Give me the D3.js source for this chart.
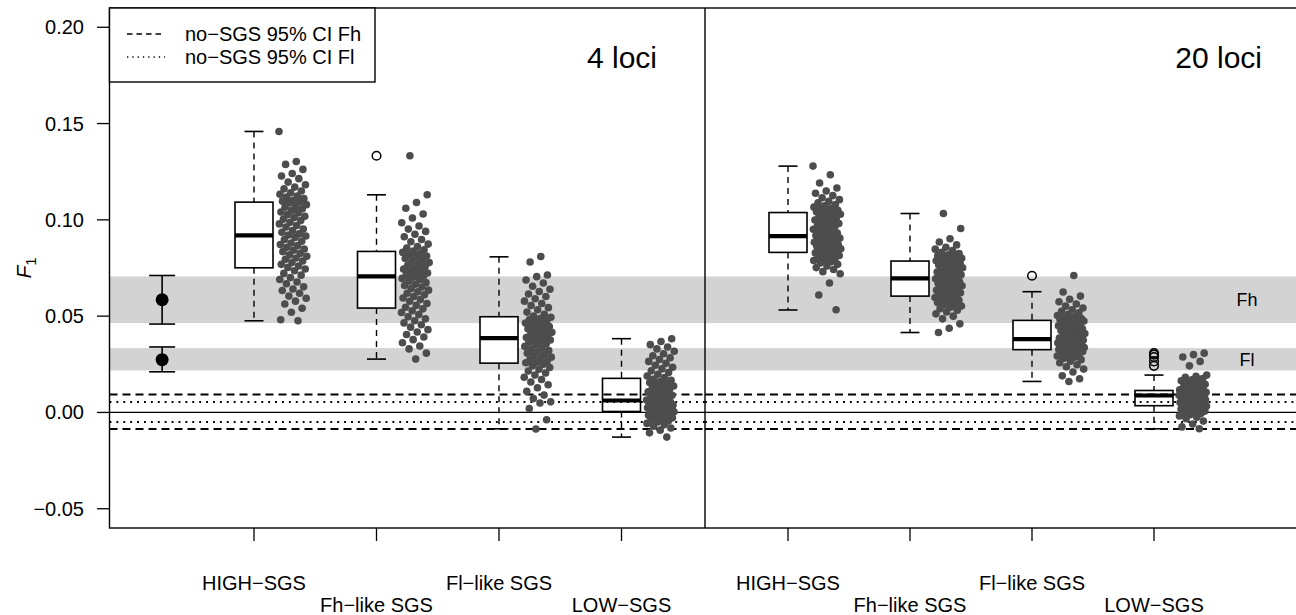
<!DOCTYPE html>
<html>
<head>
<meta charset="utf-8">
<script src="https://cdn.jsdelivr.net/npm/d3@7"></script>
<style>
  body { margin: 0; background: white; }
  svg { display: block; font-family: "Liberation Sans", Arial, Helvetica, sans-serif; }
</style>
</head>
<body>
<div id="chart"></div>
<script>
// categories and panels
var categories = ["HIGH\u2212SGS", "Fh\u2212like SGS", "Fl\u2212like SGS", "LOW\u2212SGS"];
var panelNames = ["4 loci", "20 loci"];
var yTicks = [-0.05, 0.00, 0.05, 0.10, 0.15, 0.20];

// reference bands (Fh, Fl) and their point estimates with CI
var bandLo = [0.0464, 0.0218];
var bandHi = [0.0706, 0.0334];
var bandNames = ["Fh", "Fl"];
var estValue = [0.0585, 0.0274];
var estLo = [0.0459, 0.0211];
var estHi = [0.0711, 0.0340];

// no-SGS 95% CI lines
var noSgsFh = [-0.0086, 0.0093];
var noSgsFl = [-0.0050, 0.0054];

// box statistics, 4 loci
var leftWhiskLo = [0.0476, 0.0277, -0.0085, -0.0128];
var leftQ1 = [0.0751, 0.0542, 0.0256, 0.0005];
var leftMed = [0.0919, 0.0706, 0.0386, 0.0062];
var leftQ3 = [0.1092, 0.0836, 0.0497, 0.0177];
var leftWhiskHi = [0.1459, 0.1130, 0.0808, 0.0383];
var leftOutliers = [[], [0.1333], [], []];

// box statistics, 20 loci
var rightWhiskLo = [0.0532, 0.0415, 0.0161, -0.0085];
var rightQ1 = [0.0831, 0.0604, 0.0326, 0.0035];
var rightMed = [0.0916, 0.0696, 0.0381, 0.0088];
var rightQ3 = [0.1038, 0.0786, 0.0478, 0.0114];
var rightWhiskHi = [0.1279, 0.1033, 0.0627, 0.0194];
var rightOutliers = [[], [], [0.0710], [0.0308, 0.0300, 0.0288, 0.0265, 0.0242]];

// replicate values, 4 loci
var leftHigh = [0.1459, 0.1303, 0.1288, 0.1262, 0.1241, 0.1228, 0.1214, 0.1196, 0.1182, 0.1170, 0.1161, 0.1150, 0.1141, 0.1133, 0.1124, 0.1118, 0.1110, 0.1102, 0.1097, 0.1093,
  0.1088, 0.1079, 0.1071, 0.1066, 0.1058, 0.1049, 0.1041, 0.1036, 0.1027, 0.1019, 0.1012, 0.1004, 0.0996, 0.0987, 0.0979, 0.0971, 0.0963, 0.0952, 0.0944, 0.0936, 0.0927, 0.0921,
  0.0916, 0.0909, 0.0898, 0.0889, 0.0880, 0.0872, 0.0866, 0.0858, 0.0849, 0.0842, 0.0835, 0.0826, 0.0818, 0.0811, 0.0802, 0.0795, 0.0786, 0.0778, 0.0769, 0.0760, 0.0753,
  0.0745, 0.0736, 0.0722, 0.0713, 0.0701, 0.0690, 0.0677, 0.0668, 0.0652, 0.0641, 0.0633, 0.0619, 0.0604, 0.0593, 0.0578, 0.0563, 0.0541, 0.0520, 0.0481, 0.0476];
var leftFhLike = [0.1333, 0.1130, 0.1090, 0.1060, 0.1030, 0.1010, 0.0985, 0.0968, 0.0952, 0.0940, 0.0925, 0.0912, 0.0898, 0.0886, 0.0874, 0.0862, 0.0853, 0.0845, 0.0838,
  0.0831, 0.0825, 0.0818, 0.0812, 0.0805, 0.0799, 0.0791, 0.0784, 0.0778, 0.0771, 0.0764, 0.0757, 0.0750, 0.0744, 0.0737, 0.0731, 0.0724, 0.0718, 0.0712, 0.0708,
  0.0702, 0.0696, 0.0689, 0.0681, 0.0674, 0.0666, 0.0659, 0.0651, 0.0643, 0.0635, 0.0627, 0.0619, 0.0611, 0.0602, 0.0594, 0.0586, 0.0577, 0.0566, 0.0556, 0.0546,
  0.0538, 0.0528, 0.0519, 0.0508, 0.0497, 0.0486, 0.0476, 0.0465, 0.0455, 0.0443, 0.0430, 0.0418, 0.0405, 0.0392, 0.0378, 0.0362, 0.0345, 0.0330, 0.0308, 0.0277];
var leftFlLike = [0.0810, 0.0781, 0.0714, 0.0705, 0.0688, 0.0672, 0.0655, 0.0640, 0.0628, 0.0615, 0.0602, 0.0590, 0.0578, 0.0566, 0.0555, 0.0544, 0.0533, 0.0521, 0.0510, 0.0501,
  0.0494, 0.0488, 0.0482, 0.0476, 0.0470, 0.0464, 0.0458, 0.0452, 0.0446, 0.0440, 0.0434, 0.0428, 0.0422, 0.0416, 0.0410, 0.0404, 0.0398, 0.0393, 0.0389, 0.0387,
  0.0382, 0.0376, 0.0370, 0.0364, 0.0357, 0.0350, 0.0343, 0.0336, 0.0329, 0.0322, 0.0315, 0.0308, 0.0301, 0.0294, 0.0287, 0.0280, 0.0273, 0.0266, 0.0261, 0.0258,
  0.0250, 0.0242, 0.0233, 0.0224, 0.0215, 0.0205, 0.0194, 0.0183, 0.0171, 0.0158, 0.0144, 0.0128, 0.0110, 0.0090, 0.0072, 0.0055, 0.0049, 0.0020, -0.0038, -0.0086];
var leftLow = [0.0383, 0.0368, 0.0352, 0.0340, 0.0330, 0.0318, 0.0305, 0.0294, 0.0284, 0.0275, 0.0265, 0.0255, 0.0245, 0.0235, 0.0226, 0.0216, 0.0207, 0.0198, 0.0189, 0.0181,
  0.0173, 0.0167, 0.0161, 0.0155, 0.0149, 0.0143, 0.0137, 0.0131, 0.0125, 0.0119, 0.0113, 0.0107, 0.0101, 0.0095, 0.0089, 0.0083, 0.0077, 0.0071, 0.0067, 0.0064,
  0.0060, 0.0057, 0.0054, 0.0051, 0.0048, 0.0045, 0.0042, 0.0039, 0.0036, 0.0033, 0.0030, 0.0027, 0.0024, 0.0021, 0.0018, 0.0015, 0.0012, 0.0009, 0.0007, 0.0006,
  0.0003, 0.0000, -0.0003, -0.0007, -0.0011, -0.0015, -0.0019, -0.0023, -0.0028, -0.0033, -0.0038, -0.0044, -0.0050, -0.0057, -0.0064, -0.0072, -0.0081, -0.0092, -0.0106, -0.0128];

// replicate values, 20 loci
var rightHigh = [0.1279, 0.1234, 0.1191, 0.1165, 0.1150, 0.1138, 0.1126, 0.1115, 0.1105, 0.1096, 0.1088, 0.1080, 0.1073, 0.1066, 0.1060, 0.1055, 0.1050, 0.1046, 0.1042, 0.1039,
  0.1035, 0.1029, 0.1023, 0.1017, 0.1011, 0.1005, 0.0999, 0.0993, 0.0987, 0.0981, 0.0975, 0.0969, 0.0963, 0.0957, 0.0951, 0.0945, 0.0939, 0.0932, 0.0925, 0.0919,
  0.0913, 0.0909, 0.0905, 0.0901, 0.0896, 0.0892, 0.0888, 0.0884, 0.0880, 0.0876, 0.0871, 0.0867, 0.0863, 0.0859, 0.0855, 0.0850, 0.0846, 0.0841, 0.0837, 0.0833,
  0.0829, 0.0825, 0.0820, 0.0815, 0.0810, 0.0805, 0.0800, 0.0795, 0.0789, 0.0783, 0.0776, 0.0769, 0.0761, 0.0752, 0.0742, 0.0731, 0.0720, 0.0672, 0.0610, 0.0533];
var rightFhLike = [0.1033, 0.0955, 0.0902, 0.0885, 0.0870, 0.0858, 0.0848, 0.0840, 0.0832, 0.0825, 0.0819, 0.0814, 0.0809, 0.0804, 0.0800, 0.0797, 0.0794, 0.0791, 0.0789, 0.0787,
  0.0783, 0.0778, 0.0774, 0.0769, 0.0765, 0.0760, 0.0756, 0.0751, 0.0747, 0.0742, 0.0738, 0.0733, 0.0729, 0.0724, 0.0720, 0.0715, 0.0711, 0.0706, 0.0702, 0.0698,
  0.0694, 0.0689, 0.0685, 0.0680, 0.0676, 0.0671, 0.0667, 0.0662, 0.0658, 0.0653, 0.0649, 0.0644, 0.0640, 0.0635, 0.0631, 0.0626, 0.0621, 0.0616, 0.0611, 0.0606,
  0.0601, 0.0597, 0.0592, 0.0587, 0.0582, 0.0577, 0.0571, 0.0565, 0.0559, 0.0553, 0.0546, 0.0539, 0.0531, 0.0522, 0.0512, 0.0500, 0.0486, 0.0460, 0.0437, 0.0415];
var rightFlLike = [0.0711, 0.0625, 0.0604, 0.0588, 0.0575, 0.0563, 0.0552, 0.0542, 0.0533, 0.0525, 0.0517, 0.0510, 0.0503, 0.0497, 0.0492, 0.0488, 0.0485, 0.0482, 0.0480, 0.0479,
  0.0475, 0.0470, 0.0465, 0.0460, 0.0455, 0.0450, 0.0445, 0.0440, 0.0435, 0.0430, 0.0425, 0.0420, 0.0415, 0.0410, 0.0405, 0.0400, 0.0395, 0.0390, 0.0386, 0.0383,
  0.0379, 0.0376, 0.0373, 0.0370, 0.0367, 0.0364, 0.0361, 0.0358, 0.0355, 0.0352, 0.0349, 0.0346, 0.0343, 0.0340, 0.0337, 0.0335, 0.0333, 0.0331, 0.0329, 0.0327,
  0.0324, 0.0320, 0.0316, 0.0312, 0.0308, 0.0303, 0.0298, 0.0293, 0.0287, 0.0281, 0.0274, 0.0266, 0.0258, 0.0248, 0.0237, 0.0225, 0.0210, 0.0190, 0.0175, 0.0161];
var rightLow = [0.0308, 0.0300, 0.0288, 0.0265, 0.0242, 0.0194, 0.0188, 0.0182, 0.0176, 0.0170, 0.0164, 0.0158, 0.0152, 0.0146, 0.0140, 0.0134, 0.0128, 0.0122, 0.0117, 0.0115,
  0.0113, 0.0112, 0.0110, 0.0109, 0.0108, 0.0106, 0.0105, 0.0104, 0.0102, 0.0101, 0.0099, 0.0098, 0.0097, 0.0095, 0.0094, 0.0093, 0.0092, 0.0091, 0.0090, 0.0089,
  0.0086, 0.0083, 0.0081, 0.0078, 0.0075, 0.0072, 0.0069, 0.0066, 0.0064, 0.0061, 0.0058, 0.0055, 0.0052, 0.0050, 0.0047, 0.0045, 0.0042, 0.0040, 0.0038, 0.0036,
  0.0033, 0.0030, 0.0027, 0.0024, 0.0021, 0.0018, 0.0015, 0.0011, 0.0007, 0.0003, -0.0001, -0.0006, -0.0012, -0.0018, -0.0025, -0.0033, -0.0045, -0.0060, -0.0075, -0.0085];

var width = 1296;
var height = 615;
var plotTop = 8, plotBottom = 528, plotLeft = 109.5, divider = 705, plotRight = 1310;
var fontSize = 20;
var pointColor = "#4d4d4d";

// build panels from the arrays above
var panels = [
  { name: panelNames[0], x0: plotLeft, x1: divider, range: [254, 621.5],
    lo: leftWhiskLo, q1: leftQ1, med: leftMed, q3: leftQ3, hi: leftWhiskHi, out: leftOutliers,
    points: [leftHigh, leftFhLike, leftFlLike, leftLow], estimates: true },
  { name: panelNames[1], x0: divider, x1: plotRight, range: [788, 1154],
    lo: rightWhiskLo, q1: rightQ1, med: rightMed, q3: rightQ3, hi: rightWhiskHi, out: rightOutliers,
    points: [rightHigh, rightFhLike, rightFlLike, rightLow], estimates: false }
];

var y = d3.scaleLinear().domain([-0.06, 0.21]).range([plotBottom, plotTop]);

var svg = d3.select("#chart")
    .append("svg")
    .attr("width", width)
    .attr("height", height);

svg.append("rect")
    .attr("width", width)
    .attr("height", height)
    .attr("fill", "white");

var boxHalf = 19, capHalf = 9.5, stripOffset = 39, stripSpread = 28;

panels.forEach(function(p, pi) {
  var x = d3.scaleLinear().domain([1, 4]).range(p.range);
  var g = svg.append("g");

  // grey bands
  g.selectAll(".band")
      .data(bandLo)
      .enter()
      .append("rect")
      .attr("x", p.x0)
      .attr("width", p.x1 - p.x0)
      .attr("y", (d, i) => y(bandHi[i]))
      .attr("height", (d, i) => y(d) - y(bandHi[i]))
      .attr("fill", "#d3d3d3");

  // boxes
  var boxes = g.selectAll(".box")
      .data(categories)
      .enter()
      .append("g")
      .attr("transform", (d, i) => "translate(" + x(i + 1) + ",0)");

  boxes.append("line")
      .attr("y1", (d, i) => y(p.hi[i]))
      .attr("y2", (d, i) => y(p.q3[i]))
      .attr("stroke", "black").attr("stroke-width", 1.4).attr("stroke-dasharray", "6,5");
  boxes.append("line")
      .attr("y1", (d, i) => y(p.q1[i]))
      .attr("y2", (d, i) => y(p.lo[i]))
      .attr("stroke", "black").attr("stroke-width", 1.4).attr("stroke-dasharray", "6,5");
  boxes.append("line")
      .attr("x1", -capHalf).attr("x2", capHalf)
      .attr("y1", (d, i) => y(p.hi[i])).attr("y2", (d, i) => y(p.hi[i]))
      .attr("stroke", "black").attr("stroke-width", 1.6);
  boxes.append("line")
      .attr("x1", -capHalf).attr("x2", capHalf)
      .attr("y1", (d, i) => y(p.lo[i])).attr("y2", (d, i) => y(p.lo[i]))
      .attr("stroke", "black").attr("stroke-width", 1.6);
  boxes.append("rect")
      .attr("x", -boxHalf)
      .attr("width", boxHalf * 2)
      .attr("y", (d, i) => y(p.q3[i]))
      .attr("height", (d, i) => y(p.q1[i]) - y(p.q3[i]))
      .attr("fill", "white")
      .attr("stroke", "black").attr("stroke-width", 1.6);
  boxes.append("line")
      .attr("x1", -boxHalf).attr("x2", boxHalf)
      .attr("y1", (d, i) => y(p.med[i])).attr("y2", (d, i) => y(p.med[i]))
      .attr("stroke", "black").attr("stroke-width", 4.2);
  boxes.each(function(d, i) {
    d3.select(this).selectAll(".out")
        .data(p.out[i])
        .enter()
        .append("circle")
        .attr("cy", v => y(v))
        .attr("r", 4.3)
        .attr("fill", "none")
        .attr("stroke", "black").attr("stroke-width", 1.5);
  });

  // no-SGS CI lines and zero line
  g.selectAll(".fhline")
      .data(noSgsFh)
      .enter()
      .append("line")
      .attr("x1", p.x0).attr("x2", p.x1)
      .attr("y1", d => y(d)).attr("y2", d => y(d))
      .attr("stroke", "black").attr("stroke-width", 2).attr("stroke-dasharray", "8,5");
  g.selectAll(".flline")
      .data(noSgsFl)
      .enter()
      .append("line")
      .attr("x1", p.x0).attr("x2", p.x1)
      .attr("y1", d => y(d)).attr("y2", d => y(d))
      .attr("stroke", "black").attr("stroke-width", 1.9).attr("stroke-dasharray", "1.9,5");
  g.append("line")
      .attr("x1", p.x0).attr("x2", p.x1)
      .attr("y1", y(0)).attr("y2", y(0))
      .attr("stroke", "black").attr("stroke-width", 1.2);

  // jittered replicate points
  p.points.forEach(function(vals, ci) {
    g.selectAll(".pt" + ci)
        .data(vals)
        .enter()
        .append("circle")
        .attr("cx", (d, i) => x(ci + 1) + stripOffset + (((i * 0.618034 + ci * 0.3) % 1) - 0.5) * stripSpread)
        .attr("cy", d => y(d))
        .attr("r", 3.8)
        .attr("fill", pointColor);
  });

  // panel title
  g.append("text")
      .attr("x", pi == 0 ? 657 : 1262)
      .attr("y", 68)
      .attr("text-anchor", "end")
      .style("font-size", "30px")
      .text(p.name);

  // x ticks and two-row labels
  g.selectAll(".xtick")
      .data(categories)
      .enter()
      .append("line")
      .attr("x1", (d, i) => x(i + 1)).attr("x2", (d, i) => x(i + 1))
      .attr("y1", plotBottom).attr("y2", plotBottom + 13)
      .attr("stroke", "black").attr("stroke-width", 1.3);
  g.selectAll(".xlab")
      .data(categories)
      .enter()
      .append("text")
      .attr("x", (d, i) => x(i + 1))
      .attr("y", (d, i) => i % 2 == 0 ? 590 : 612)
      .attr("text-anchor", "middle")
      .style("font-size", fontSize + "px")
      .text(d => d);

  // estimates with CI (4 loci only)
  if (p.estimates) {
    var ex = x(0.25);
    var est = g.selectAll(".est")
        .data(estValue)
        .enter()
        .append("g");
    est.append("line")
        .attr("x1", ex).attr("x2", ex)
        .attr("y1", (d, i) => y(estHi[i])).attr("y2", (d, i) => y(estLo[i]))
        .attr("stroke", "black").attr("stroke-width", 1.6);
    est.append("line")
        .attr("x1", ex - 13).attr("x2", ex + 13)
        .attr("y1", (d, i) => y(estHi[i])).attr("y2", (d, i) => y(estHi[i]))
        .attr("stroke", "black").attr("stroke-width", 1.6);
    est.append("line")
        .attr("x1", ex - 13).attr("x2", ex + 13)
        .attr("y1", (d, i) => y(estLo[i])).attr("y2", (d, i) => y(estLo[i]))
        .attr("stroke", "black").attr("stroke-width", 1.6);
    est.append("circle")
        .attr("cx", ex)
        .attr("cy", d => y(d))
        .attr("r", 6.5)
        .attr("fill", "black");
  } else {
    g.selectAll(".bandlab")
        .data(bandNames)
        .enter()
        .append("text")
        .attr("x", 1247)
        .attr("y", (d, i) => (y(bandLo[i]) + y(bandHi[i])) / 2 + 6.5)
        .attr("text-anchor", "middle")
        .style("font-size", "18px")
        .text(d => d);
  }
});

// frame
svg.append("rect")
    .attr("x", plotLeft)
    .attr("y", plotTop)
    .attr("width", plotRight - plotLeft)
    .attr("height", plotBottom - plotTop)
    .attr("fill", "none")
    .attr("stroke", "black")
    .attr("stroke-width", 1.4);
svg.append("line")
    .attr("x1", divider).attr("x2", divider)
    .attr("y1", plotTop).attr("y2", plotBottom)
    .attr("stroke", "black").attr("stroke-width", 1.4);

// y axis
svg.selectAll(".ytick")
    .data(yTicks)
    .enter()
    .append("line")
    .attr("x1", plotLeft - 12.5).attr("x2", plotLeft)
    .attr("y1", d => y(d)).attr("y2", d => y(d))
    .attr("stroke", "black").attr("stroke-width", 1.3);
svg.selectAll(".ylab")
    .data(yTicks)
    .enter()
    .append("text")
    .attr("x", 84)
    .attr("y", d => y(d) + 7)
    .attr("text-anchor", "end")
    .style("font-size", fontSize + "px")
    .text(d => d3.format(".2f")(d).replace("-", "\u2212"));

var ytitle = svg.append("text")
    .attr("transform", "translate(31," + 268 + ") rotate(-90)")
    .attr("text-anchor", "middle")
    .style("font-size", "21px");
ytitle.append("tspan").style("font-style", "italic").text("F");
ytitle.append("tspan").attr("dy", 5).style("font-size", "15px").text("1");

// legend
var legend = svg.append("g");
legend.append("rect")
    .attr("x", plotLeft)
    .attr("y", plotTop)
    .attr("width", 375 - plotLeft)
    .attr("height", 82 - plotTop)
    .attr("fill", "white")
    .attr("stroke", "black")
    .attr("stroke-width", 1.4);
var legendRows = ["no\u2212SGS 95% CI Fh", "no\u2212SGS 95% CI Fl"];
var legendDash = ["5.5,4", "1.3,4"];
legend.selectAll(".lline")
    .data(legendRows)
    .enter()
    .append("line")
    .attr("x1", 127).attr("x2", 165)
    .attr("y1", (d, i) => 34 + i * 23).attr("y2", (d, i) => 34 + i * 23)
    .attr("stroke", "black").attr("stroke-width", 1.3)
    .attr("stroke-dasharray", (d, i) => legendDash[i]);
legend.selectAll(".ltext")
    .data(legendRows)
    .enter()
    .append("text")
    .attr("x", 185)
    .attr("y", (d, i) => 41 + i * 23)
    .style("font-size", fontSize + "px")
    .text(d => d);
</script>
</body>
</html>
